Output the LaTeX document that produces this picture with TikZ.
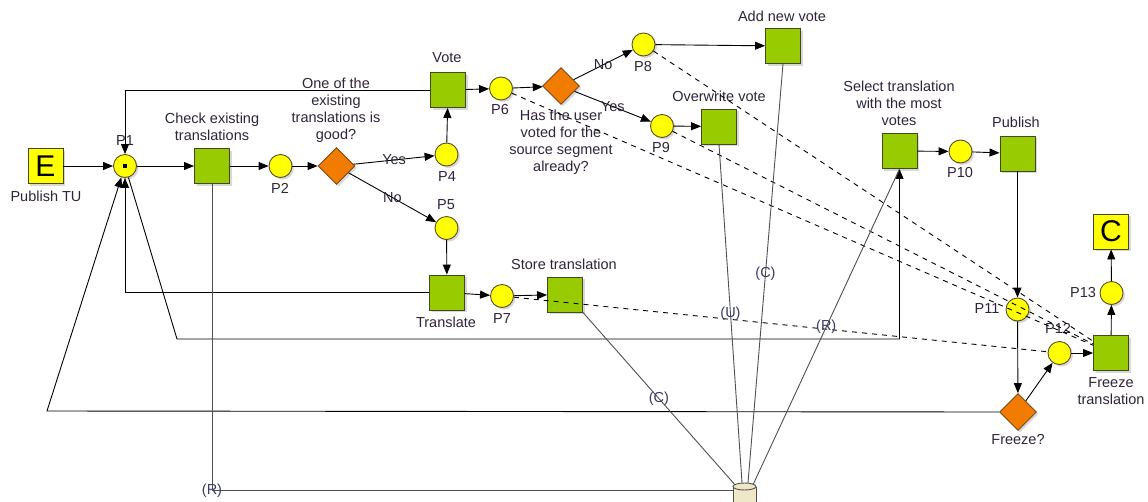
\documentclass[tikz,border=0pt]{standalone}
\usepackage{fontspec}
\setmainfont{Liberation Sans}
\usetikzlibrary{shapes.geometric,arrows.meta,shadows}
\definecolor{taskfill}{HTML}{99CC00}
\definecolor{taskdraw}{HTML}{3F4A1E}
\definecolor{placefill}{HTML}{FFFF00}
\definecolor{placedraw}{HTML}{5A5028}
\definecolor{gwfill}{HTML}{F27C00}
\definecolor{gwdraw}{HTML}{7A4A1A}
\definecolor{dbfill}{HTML}{EEE8C8}
\definecolor{textc}{HTML}{30243C}
\definecolor{datalbl}{HTML}{3A3A66}
\definecolor{datac}{HTML}{505050}
\begin{document}
\begin{tikzpicture}[x=1pt,y=-1pt,
  shd/.style={drop shadow={shadow xshift=2pt,shadow yshift=-2pt,opacity=0.3}},
  task/.style={draw=taskdraw,fill=taskfill,minimum size=35pt,inner sep=0,line width=0.9pt,shd},
  evt/.style={draw=taskdraw,fill=placefill,minimum size=35pt,inner sep=0,line width=0.9pt,font=\fontsize{30}{30}\selectfont,shd},
  place/.style={circle,draw=placedraw,fill=placefill,minimum size=23pt,inner sep=0,line width=0.9pt,shd},
  gw/.style={diamond,draw=gwdraw,fill=gwfill,minimum width=37pt,minimum height=37pt,inner sep=0,line width=0.9pt,shd},
  lbl/.style={text=textc,font=\fontsize{14.5}{17}\selectfont,align=center,inner sep=0},
  dlbl/.style={text=datalbl,font=\fontsize{14.5}{17}\selectfont,inner sep=0},
  flow/.style={line width=0.9pt,-{Triangle[length=10pt,width=8pt]}},
  data/.style={line width=0.9pt,draw=datac},
  cancel/.style={line width=0.9pt,dash pattern=on 5pt off 5pt},
]
\useasboundingbox[fill=white] (0,0) rectangle (1148,501);

% ---- nodes ----
\node[evt] (E) at (45.5,166) {E};
\node[lbl] at (46,196) {Publish TU};
\node[place] (p1) at (125,166) {};
\fill[black] ([xshift=-2pt,yshift=-2pt]p1.center) rectangle ([xshift=2pt,yshift=2pt]p1.center);
\node[lbl] at (125,141) {P1};

\node[task] (chk) at (212,166) {};
\node[lbl] at (212,126.5) {Check existing\\translations};
\node[place] (p2) at (280.5,166) {};
\node[lbl] at (280,188) {P2};
\node[gw] (d1) at (336.5,166) {};
\node[lbl] at (336,110.5) {One of the\\existing\\translations is\\good?};
\node[place] (p4) at (446.5,154.5) {};
\node[lbl] at (447,177) {P4};
\node[place] (p5) at (446.5,228) {};
\node[lbl] at (446,205) {P5};
\node[task] (vote) at (448,90) {};
\node[lbl] at (447,58) {Vote};
\node[task] (tr) at (447,292.5) {};
\node[lbl] at (446,322) {Translate};

\node[place] (p6) at (501,88.5) {};
\node[lbl] at (500,110) {P6};
\node[gw] (d2) at (561,86) {};
\node[lbl] at (561,142) {Has the user\\voted for the\\source segment\\already?};
\node[place] (p8) at (643.5,44.5) {};
\node[lbl] at (643,67) {P8};
\node[place] (p9) at (662,126) {};
\node[lbl] at (661,148) {P9};
\node[task] (an) at (783,46) {};
\node[lbl] at (782,16) {Add new vote};
\node[task] (ov) at (719,126.5) {};
\node[lbl] at (719,96) {Overwrite vote};

\node[place] (p7) at (502,296) {};
\node[lbl] at (502,319) {P7};
\node[task] (st) at (565,294.5) {};
\node[lbl] at (564,264) {Store translation};

\node[task] (sel) at (899.5,151) {};
\node[lbl] at (899,103.5) {Select translation\\with the most\\votes};
\node[place] (p10) at (960.5,151.5) {};
\node[lbl] at (960,173) {P10};
\node[task] (pub) at (1017.5,153.5) {};
\node[lbl] at (1016,122) {Publish};

\node[place] (p11) at (1017.5,309.5) {};
\node[lbl] at (987,309) {P11};
\node[place] (p12) at (1059.5,353) {};
\node[lbl] at (1058,328) {P12};
\node[task] (ft) at (1111,353) {};
\node[lbl] at (1111,391) {Freeze\\translation};
\node[place] (p13) at (1111.5,293) {};
\node[lbl] at (1083,293) {P13};
\node[evt] (C) at (1111,231.5) {C};
\node[gw] (frz) at (1018,412) {};
\node[lbl] at (1018,440) {Freeze?};

% data store
\node[minimum width=23pt,minimum height=40pt,inner sep=0] (db) at (744.5,503) {};
\draw[datac,fill=dbfill,line width=0.9pt] (733,486.5) -- (733,530) -- (756,530) -- (756,486.5);
\draw[datac,fill=dbfill,line width=0.9pt] (744.5,486.5) ellipse [x radius=11.5, y radius=3.5];

\coordinate (c1) at (177,339);
\coordinate (c2) at (47,411);

% ---- control flow ----
\draw[flow] (E) -- (p1);
\draw[flow] (p1) -- (chk);
\draw[flow] (chk) -- (p2);
\draw[flow] (p2) -- (d1);
\draw[flow] (d1) -- node[lbl]{Yes} (p4);
\draw[flow] (d1) -- node[lbl]{No} (p5);
\draw[flow] (p4) -- (vote);
\draw[flow] (p5) -- (tr);
\draw[flow] (vote) -- (p6);
\draw[flow] (p6) -- (d2);
\draw[flow] (d2) -- node[lbl]{No} (p8);
\draw[flow] (d2) -- node[lbl]{Yes} (p9);
\draw[flow] (p8) -- (an);
\draw[flow] (p9) -- (ov);
\draw[flow] (tr) -- (p7);
\draw[flow] (p7) -- (st);
\draw[flow] (vote.west) -| (p1.north);
\draw[flow] (tr.west) -| (p1.south);
\draw[flow] (frz.west) -- (c2) -- (p1);
\draw[flow] (p1) -- (c1) -| (sel.south);
\draw[flow] (sel) -- (p10);
\draw[flow] (p10) -- (pub);
\draw[flow] (pub) -- (p11);
\draw[flow] (p11) -- (frz);
\draw[flow] (frz) -- (p12);
\draw[flow] (p12) -- (ft);
\draw[flow] (ft) -- (p13);
\draw[flow] (p13) -- (C);

% ---- cancellation (dashed) ----
\draw[cancel] (p6) -- (ft);
\draw[cancel] (p8) -- (ft);
\draw[cancel] (p9) -- (ft);
\draw[cancel] (p7) -- (p12);

% ---- data access ----
\draw[data] (chk.south) |- ([yshift=13pt]db.west);
\node[dlbl] at (212,491) {(R)};
\draw[data] (st.south east) -- node[dlbl]{(C)} ([xshift=-9.5pt,yshift=-2pt]db.north);
\draw[data] (ov.south) -- node[dlbl]{(U)} ([xshift=-2.5pt]db.north);
\draw[data] (an.south) -- node[dlbl]{(C)} ([xshift=3.5pt]db.north);
\draw[data] (sel.south) -- node[dlbl]{(R)} ([xshift=8.5pt,yshift=-2pt]db.north);
\end{tikzpicture}
\end{document}
